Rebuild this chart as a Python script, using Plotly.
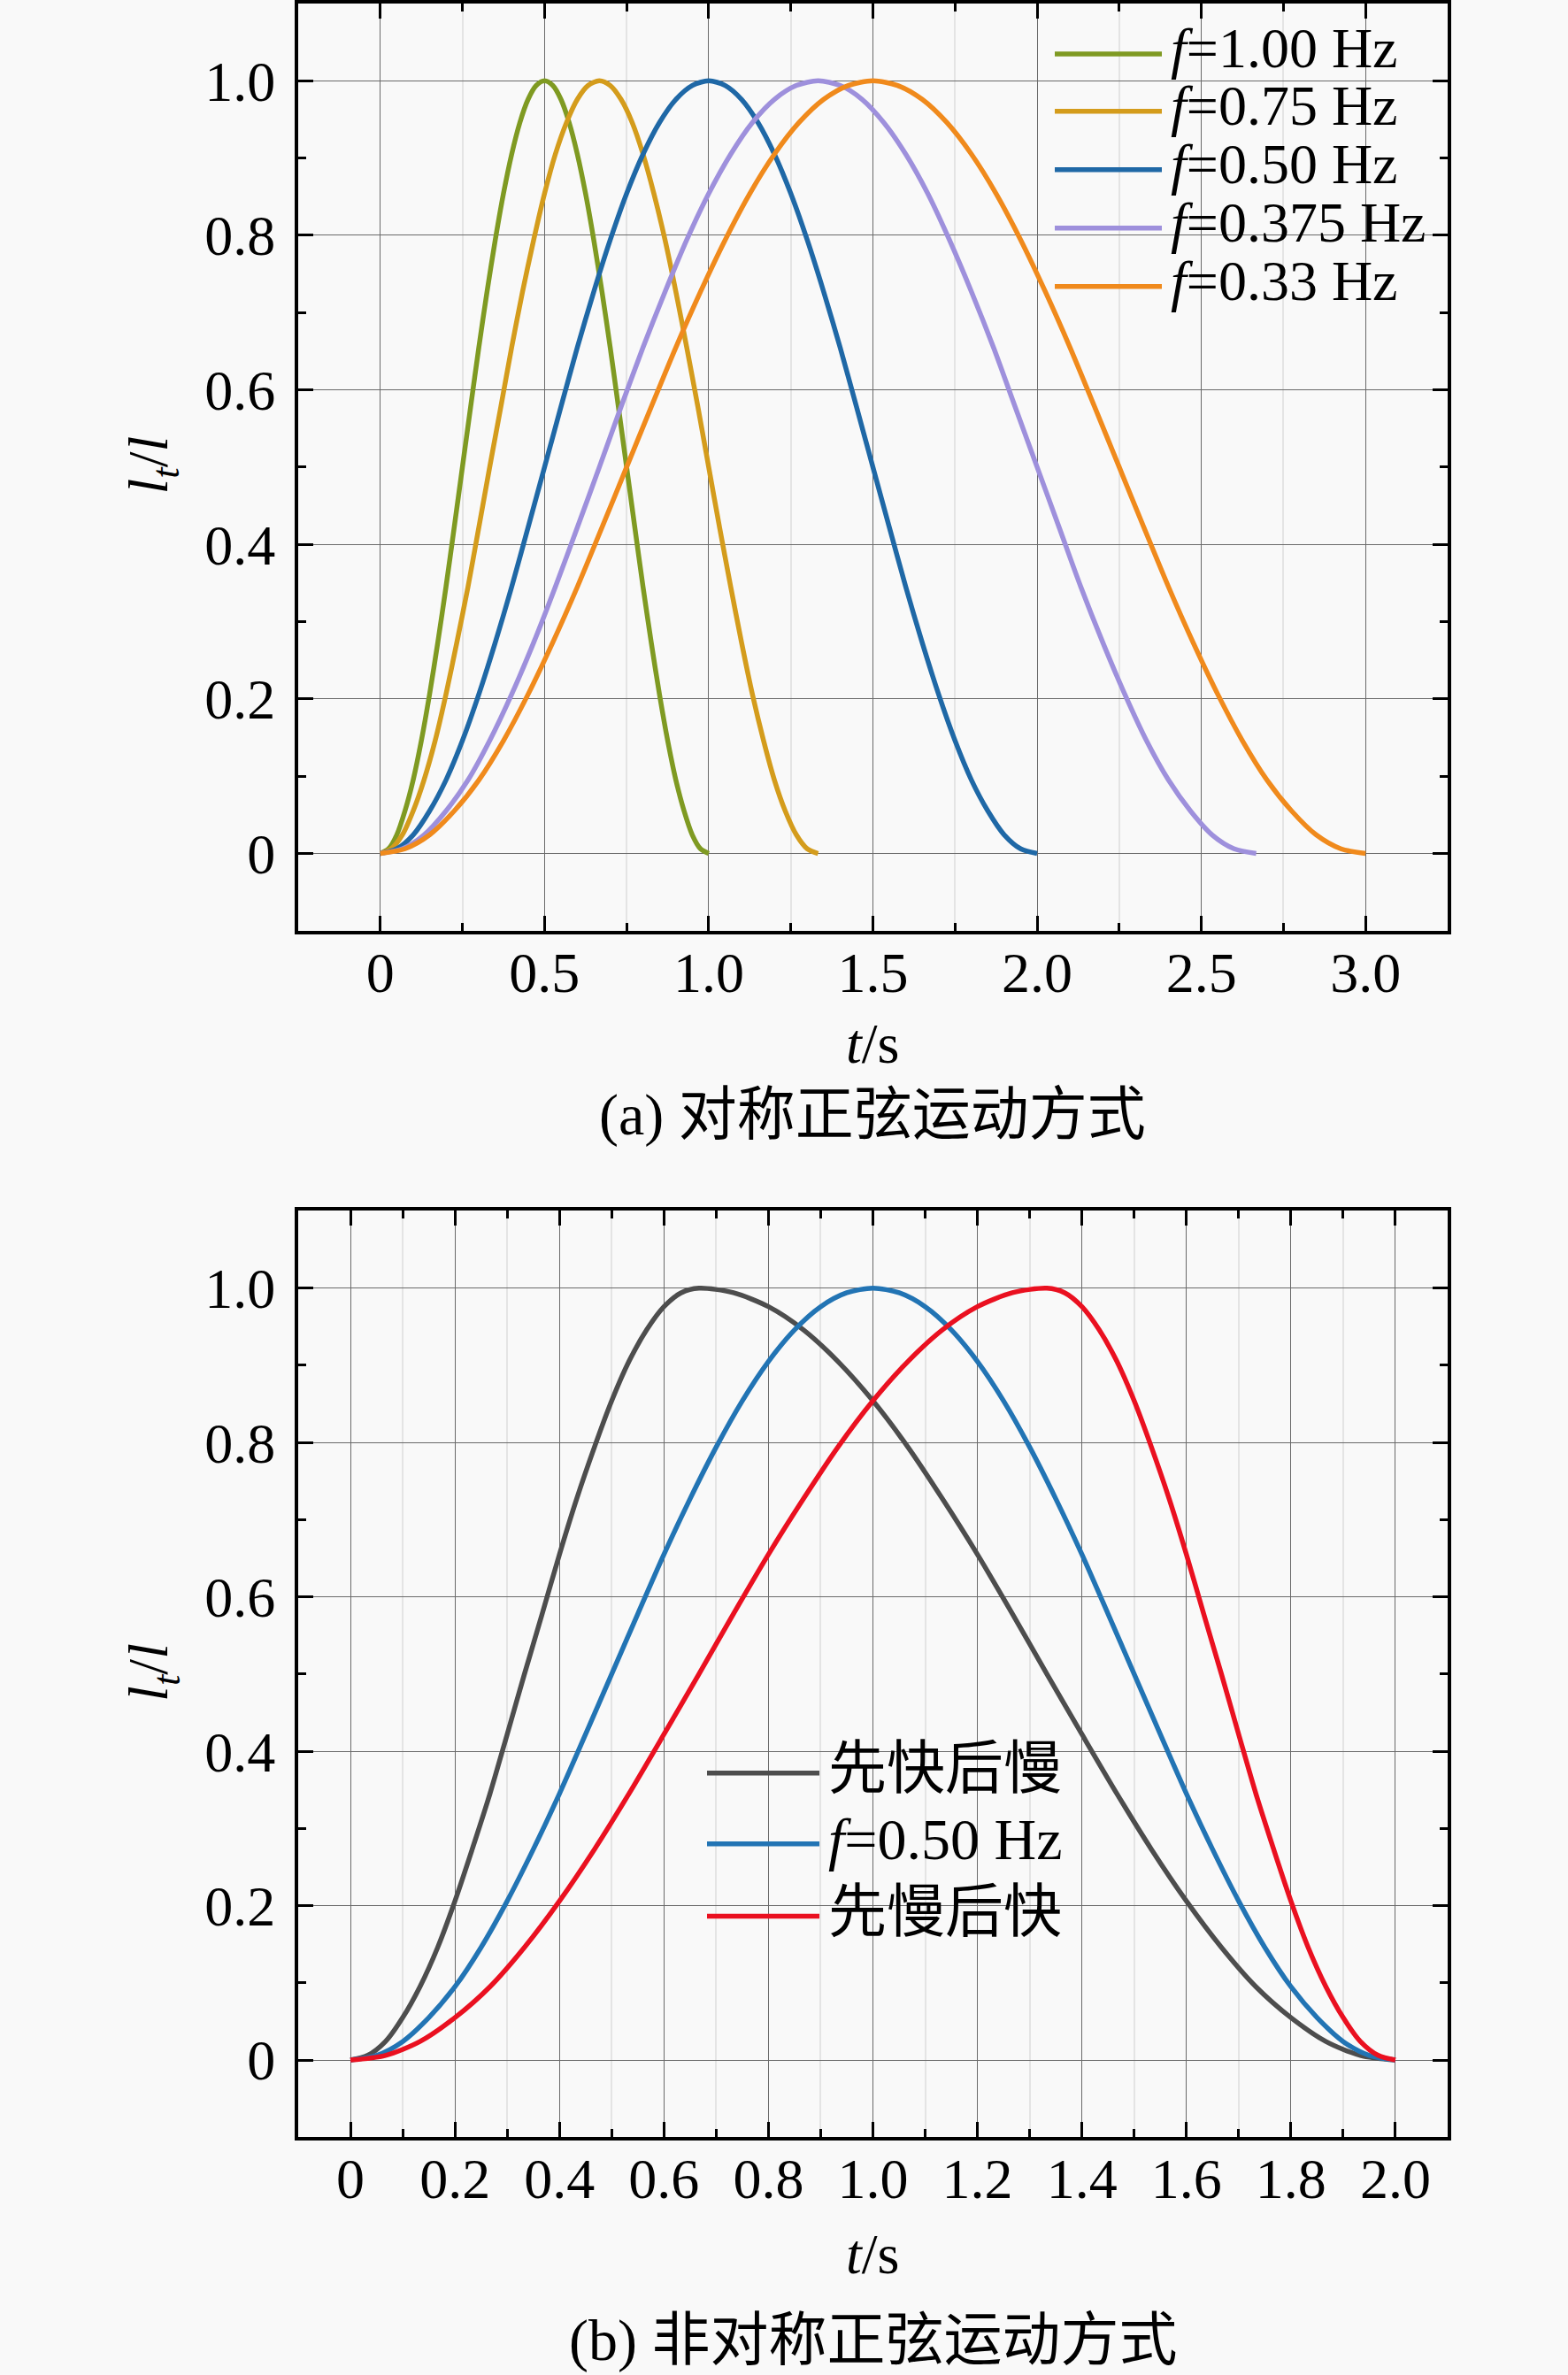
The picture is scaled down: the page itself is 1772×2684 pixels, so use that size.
import plotly.graph_objects as go

W, H = 1772, 2684

# ---------------- data (panel a: symmetric sine motion) ----------------
t_f100 = [0, 0.025, 0.05, 0.075, 0.1, 0.125, 0.15, 0.175, 0.2, 0.225, 0.25, 0.275, 0.3, 0.325,
          0.35, 0.375, 0.4, 0.425, 0.45, 0.475, 0.5, 0.525, 0.55, 0.575, 0.6, 0.625, 0.65,
          0.675, 0.7, 0.725, 0.75, 0.775, 0.8, 0.825, 0.85, 0.875, 0.9, 0.925, 0.95, 0.975, 1.0]
y_f100 = [0, 0.006, 0.024, 0.055, 0.095, 0.146, 0.206, 0.273, 0.345, 0.422, 0.5, 0.578, 0.655,
          0.727, 0.794, 0.854, 0.905, 0.946, 0.976, 0.994, 1.0, 0.994, 0.976, 0.946, 0.905,
          0.854, 0.794, 0.727, 0.655, 0.578, 0.5, 0.422, 0.345, 0.273, 0.206, 0.146, 0.095,
          0.055, 0.024, 0.006, 0]

t_f075 = [0, 0.033, 0.067, 0.1, 0.133, 0.167, 0.2, 0.233, 0.267, 0.3, 0.333, 0.367, 0.4, 0.433,
          0.467, 0.5, 0.533, 0.567, 0.6, 0.633, 0.667, 0.7, 0.733, 0.767, 0.8, 0.833, 0.867,
          0.9, 0.933, 0.967, 1.0, 1.033, 1.067, 1.1, 1.133, 1.167, 1.2, 1.233, 1.267, 1.3, 1.333]
y_f075 = [0, 0.006, 0.024, 0.055, 0.095, 0.146, 0.206, 0.273, 0.345, 0.422, 0.5, 0.578, 0.655,
          0.727, 0.794, 0.854, 0.905, 0.946, 0.976, 0.994, 1.0, 0.994, 0.976, 0.946, 0.905,
          0.854, 0.794, 0.727, 0.655, 0.578, 0.5, 0.422, 0.345, 0.273, 0.206, 0.146, 0.095,
          0.055, 0.024, 0.006, 0]

t_f050 = [0, 0.05, 0.1, 0.15, 0.2, 0.25, 0.3, 0.35, 0.4, 0.45, 0.5, 0.55, 0.6, 0.65, 0.7, 0.75,
          0.8, 0.85, 0.9, 0.95, 1.0, 1.05, 1.1, 1.15, 1.2, 1.25, 1.3, 1.35, 1.4, 1.45, 1.5, 1.55,
          1.6, 1.65, 1.7, 1.75, 1.8, 1.85, 1.9, 1.95, 2.0]
y_f050 = [0, 0.006, 0.024, 0.055, 0.095, 0.146, 0.206, 0.273, 0.345, 0.422, 0.5, 0.578, 0.655,
          0.727, 0.794, 0.854, 0.905, 0.946, 0.976, 0.994, 1.0, 0.994, 0.976, 0.946, 0.905,
          0.854, 0.794, 0.727, 0.655, 0.578, 0.5, 0.422, 0.345, 0.273, 0.206, 0.146, 0.095,
          0.055, 0.024, 0.006, 0]

t_f0375 = [0, 0.067, 0.133, 0.2, 0.267, 0.333, 0.4, 0.467, 0.533, 0.6, 0.667, 0.733, 0.8, 0.867,
           0.933, 1.0, 1.067, 1.133, 1.2, 1.267, 1.333, 1.4, 1.467, 1.533, 1.6, 1.667, 1.733,
           1.8, 1.867, 1.933, 2.0, 2.067, 2.133, 2.2, 2.267, 2.333, 2.4, 2.467, 2.533, 2.6, 2.667]
y_f0375 = [0, 0.006, 0.024, 0.055, 0.095, 0.146, 0.206, 0.273, 0.345, 0.422, 0.5, 0.578, 0.655,
           0.727, 0.794, 0.854, 0.905, 0.946, 0.976, 0.994, 1.0, 0.994, 0.976, 0.946, 0.905,
           0.854, 0.794, 0.727, 0.655, 0.578, 0.5, 0.422, 0.345, 0.273, 0.206, 0.146, 0.095,
           0.055, 0.024, 0.006, 0]

t_f033 = [0, 0.075, 0.15, 0.225, 0.3, 0.375, 0.45, 0.525, 0.6, 0.675, 0.75, 0.825, 0.9, 0.975,
          1.05, 1.125, 1.2, 1.275, 1.35, 1.425, 1.5, 1.575, 1.65, 1.725, 1.8, 1.875, 1.95, 2.025,
          2.1, 2.175, 2.25, 2.325, 2.4, 2.475, 2.55, 2.625, 2.7, 2.775, 2.85, 2.925, 3.0]
y_f033 = [0, 0.006, 0.024, 0.055, 0.095, 0.146, 0.206, 0.273, 0.345, 0.422, 0.5, 0.578, 0.655,
          0.727, 0.794, 0.854, 0.905, 0.946, 0.976, 0.994, 1.0, 0.994, 0.976, 0.946, 0.905,
          0.854, 0.794, 0.727, 0.655, 0.578, 0.5, 0.422, 0.345, 0.273, 0.206, 0.146, 0.095,
          0.055, 0.024, 0.006, 0]

names_a = ["<i>f</i>=1.00 Hz", "<i>f</i>=0.75 Hz", "<i>f</i>=0.50 Hz",
           "<i>f</i>=0.375 Hz", "<i>f</i>=0.33 Hz"]
colors_a = ["#7f9a22", "#d49c1c", "#1f68a6", "#9e90dc", "#f08a1c"]

# ---------------- data (panel b: asymmetric sine motion) ----------------
t_fastslow = [0, 0.033, 0.067, 0.1, 0.133, 0.167, 0.2, 0.233, 0.267, 0.3, 0.333, 0.367, 0.4,
              0.433, 0.467, 0.5, 0.533, 0.567, 0.6, 0.633, 0.667,
              0.733, 0.8, 0.867, 0.933, 1.0, 1.067, 1.133, 1.2, 1.267, 1.333,
              1.4, 1.467, 1.533, 1.6, 1.667, 1.733, 1.8, 1.867, 1.933, 2.0]
y_fastslow = [0, 0.006, 0.024, 0.055, 0.095, 0.146, 0.206, 0.273, 0.345, 0.422, 0.5, 0.578,
              0.655, 0.727, 0.794, 0.854, 0.905, 0.946, 0.976, 0.994, 1.0,
              0.994, 0.976, 0.946, 0.905, 0.854, 0.794, 0.727, 0.655, 0.578, 0.5,
              0.422, 0.345, 0.273, 0.206, 0.146, 0.095, 0.055, 0.024, 0.006, 0]

t_f050b = [0, 0.05, 0.1, 0.15, 0.2, 0.25, 0.3, 0.35, 0.4, 0.45, 0.5, 0.55, 0.6, 0.65, 0.7, 0.75,
           0.8, 0.85, 0.9, 0.95, 1.0, 1.05, 1.1, 1.15, 1.2, 1.25, 1.3, 1.35, 1.4, 1.45, 1.5, 1.55,
           1.6, 1.65, 1.7, 1.75, 1.8, 1.85, 1.9, 1.95, 2.0]
y_f050b = [0, 0.006, 0.024, 0.055, 0.095, 0.146, 0.206, 0.273, 0.345, 0.422, 0.5, 0.578, 0.655,
           0.727, 0.794, 0.854, 0.905, 0.946, 0.976, 0.994, 1.0, 0.994, 0.976, 0.946, 0.905,
           0.854, 0.794, 0.727, 0.655, 0.578, 0.5, 0.422, 0.345, 0.273, 0.206, 0.146, 0.095,
           0.055, 0.024, 0.006, 0]

t_slowfast = [0, 0.067, 0.133, 0.2, 0.267, 0.333, 0.4, 0.467, 0.533, 0.6, 0.667,
              0.733, 0.8, 0.867, 0.933, 1.0, 1.067, 1.133, 1.2, 1.267, 1.333,
              1.367, 1.4, 1.433, 1.467, 1.5, 1.533, 1.567, 1.6, 1.633, 1.667,
              1.7, 1.733, 1.767, 1.8, 1.833, 1.867, 1.9, 1.933, 1.967, 2.0]
y_slowfast = [0, 0.006, 0.024, 0.055, 0.095, 0.146, 0.206, 0.273, 0.345, 0.422, 0.5,
              0.578, 0.655, 0.727, 0.794, 0.854, 0.905, 0.946, 0.976, 0.994, 1.0,
              0.994, 0.976, 0.946, 0.905, 0.854, 0.794, 0.727, 0.655, 0.578, 0.5,
              0.422, 0.345, 0.273, 0.206, 0.146, 0.095, 0.055, 0.024, 0.006, 0]

names_b = ["先快后慢", "<i>f</i>=0.50 Hz", "先慢后快"]
colors_b = ["#4d4d4d", "#2274b4", "#ea1020"]

# ticks
xa_tickvals = [0, 0.5, 1.0, 1.5, 2.0, 2.5, 3.0]
xa_ticktext = ["0", "0.5", "1.0", "1.5", "2.0", "2.5", "3.0"]
xa_minor = [-0.25, 0.25, 0.75, 1.25, 1.75, 2.25, 2.75, 3.25]
xb_tickvals = [0, 0.2, 0.4, 0.6, 0.8, 1.0, 1.2, 1.4, 1.6, 1.8, 2.0]
xb_ticktext = ["0", "0.2", "0.4", "0.6", "0.8", "1.0", "1.2", "1.4", "1.6", "1.8", "2.0"]
xb_minor = [-0.1, 0.1, 0.3, 0.5, 0.7, 0.9, 1.1, 1.3, 1.5, 1.7, 1.9, 2.1]
y_tickvals = [0, 0.2, 0.4, 0.6, 0.8, 1.0]
y_ticktext = ["0", "0.2", "0.4", "0.6", "0.8", "1.0"]
y_minor = [-0.1, 0.1, 0.3, 0.5, 0.7, 0.9, 1.1]

caption_a = "(a) 对称正弦运动方式"
caption_b = "(b) 非对称正弦运动方式"
xtitle = "<i>t</i>/s"
ytitle = "<i>l</i><sub><i>t</i></sub>/<i>l</i>"

# ---------------- figure ----------------
FONT = "Liberation Serif, Times New Roman, Noto Sans CJK SC, serif"
BG = "#f9f9f9"
FS = 64
LW = 5.5


def px(x):
    return x / W


def py(y):
    return 1 - y / H


fig = go.Figure()

series_a = [(t_f100, y_f100), (t_f075, y_f075), (t_f050, y_f050),
            (t_f0375, y_f0375), (t_f033, y_f033)]
for (tt, yy), nm, c in zip(series_a, names_a, colors_a):
    fig.add_trace(go.Scatter(x=tt, y=yy, mode="lines", name=nm,
                             line=dict(color=c, width=LW, shape="spline", smoothing=0.8),
                             xaxis="x", yaxis="y", showlegend=False))

series_b = [(t_fastslow, y_fastslow), (t_f050b, y_f050b), (t_slowfast, y_slowfast)]
for (tt, yy), nm, c in zip(series_b, names_b, colors_b):
    fig.add_trace(go.Scatter(x=tt, y=yy, mode="lines", name=nm,
                             line=dict(color=c, width=LW, shape="spline", smoothing=0.8),
                             xaxis="x2", yaxis="y2", showlegend=False))


def xaxis_cfg(rng, tv, tt, minor, anchor):
    return dict(domain=[px(337), px(1636)], range=rng, anchor=anchor,
                tickmode="array", tickvals=tv, ticktext=tt,
                ticks="inside", ticklen=17, tickwidth=2.5, tickcolor="black",
                showline=True, linewidth=4, linecolor="black", mirror="ticks",
                showgrid=True, gridcolor="#6a6a6a", gridwidth=1.3, zeroline=False,
                tickfont=dict(family=FONT, size=FS, color="black"),
                ticklabelstandoff=-12,
                minor=dict(tickmode="array", tickvals=minor, ticks="inside", ticklen=9,
                           tickwidth=2.5, tickcolor="black", showgrid=True,
                           gridcolor="#e4e4e4", gridwidth=1.5))


def yaxis_cfg(dom, anchor):
    return dict(domain=dom, range=[-0.1, 1.1], anchor=anchor,
                tickmode="array", tickvals=y_tickvals, ticktext=y_ticktext,
                ticks="inside", ticklen=17, tickwidth=2.5, tickcolor="black",
                showline=True, linewidth=4, linecolor="black", mirror="ticks",
                showgrid=True, gridcolor="#6a6a6a", gridwidth=1.3, zeroline=False,
                tickfont=dict(family=FONT, size=FS, color="black"),
                ticklabelstandoff=9,
                minor=dict(tickmode="array", tickvals=y_minor, ticks="inside", ticklen=9,
                           tickwidth=2.5, tickcolor="black", showgrid=False))


shapes = []
annotations = []

# legend background boxes (hide gridlines behind legend)
shapes.append(dict(type="rect", xref="paper", yref="paper", layer="between",
                   x0=px(1180), x1=px(1633), y0=py(350), y1=py(4),
                   fillcolor=BG, line=dict(width=0)))
shapes.append(dict(type="rect", xref="paper", yref="paper", layer="between",
                   x0=px(775), x1=px(1215), y0=py(2212), y1=py(1955),
                   fillcolor=BG, line=dict(width=0)))

# legend panel a
rows_a = [58, 123, 189, 255, 321]
for yy, nm, c in zip(rows_a, names_a, colors_a):
    shapes.append(dict(type="line", xref="paper", yref="paper",
                       x0=px(1192), x1=px(1313), y0=py(yy), y1=py(yy),
                       line=dict(color=c, width=LW)))
    annotations.append(dict(xref="paper", yref="paper", x=px(1321), y=py(yy - 6),
                            xanchor="left", yanchor="middle", text=nm, showarrow=False,
                            font=dict(family=FONT, size=64, color="black")))

# legend panel b
rows_b = [2003, 2083, 2165]
for yy, nm, c in zip(rows_b, names_b, colors_b):
    shapes.append(dict(type="line", xref="paper", yref="paper",
                       x0=px(799), x1=px(926), y0=py(yy), y1=py(yy),
                       line=dict(color=c, width=LW)))
    annotations.append(dict(xref="paper", yref="paper", x=px(934), y=py(yy - 5),
                            xanchor="left", yanchor="middle", text=nm, showarrow=False,
                            font=dict(family=FONT, size=66, color="black")))

# axis titles and captions
for xc, yc, txt, fs in [(986, 1178, xtitle, FS), (986, 1258, caption_a, 66),
                        (986, 2547, xtitle, FS), (986, 2645, caption_b, 66)]:
    annotations.append(dict(xref="paper", yref="paper", x=px(xc), y=py(yc),
                            xanchor="center", yanchor="middle", text=txt, showarrow=False,
                            font=dict(family=FONT, size=fs, color="black")))
for yc in [523, 1889]:
    annotations.append(dict(xref="paper", yref="paper", x=px(172), y=py(yc),
                            xanchor="center", yanchor="middle", text=ytitle, showarrow=False,
                            textangle=-90,
                            font=dict(family=FONT, size=FS, color="black")))

fig.update_layout(
    width=W, height=H,
    margin=dict(l=0, r=0, t=0, b=0),
    paper_bgcolor=BG, plot_bgcolor=BG,
    showlegend=False,
    xaxis=xaxis_cfg([-0.25, 3.25], xa_tickvals, xa_ticktext, xa_minor, "y"),
    yaxis=yaxis_cfg([py(1050), py(1)], "x"),
    xaxis2=xaxis_cfg([-0.1, 2.1], xb_tickvals, xb_ticktext, xb_minor, "y2"),
    yaxis2=yaxis_cfg([py(2415), py(1367)], "x2"),
    shapes=shapes,
    annotations=annotations,
    font=dict(family=FONT, size=FS, color="black"),
)

fig.write_html("out.html",
               config={"displayModeBar": False},
               post_script="document.body.style.margin='0px';document.body.style.padding='0px';"
                           "document.body.style.background='#f9f9f9';")
